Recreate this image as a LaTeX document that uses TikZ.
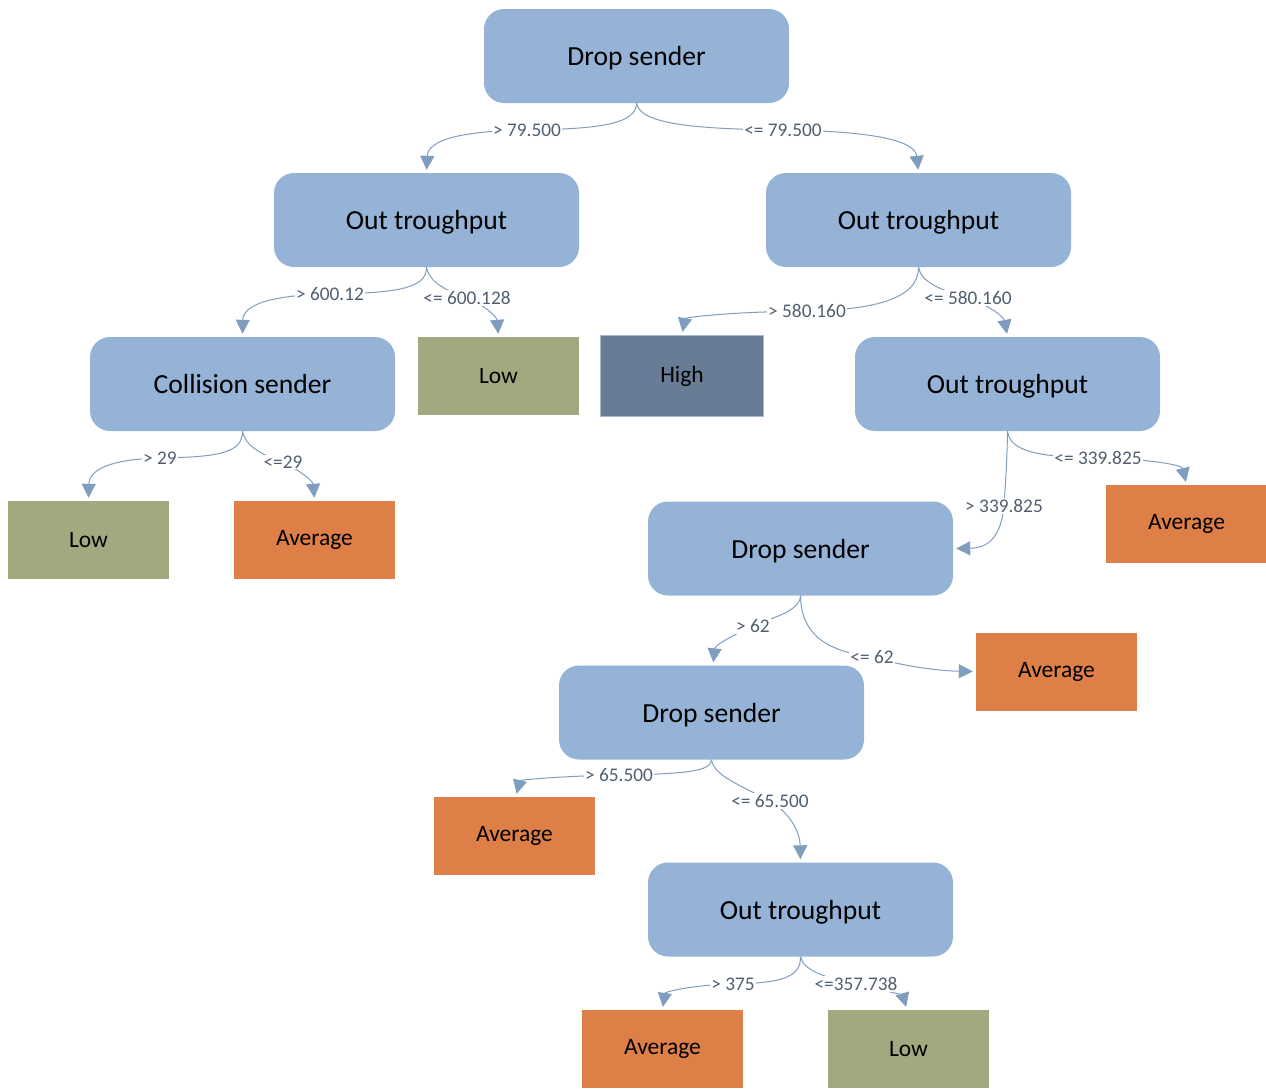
\documentclass[tikz,border=0pt]{standalone}
\usepackage{fontspec}
\setmainfont{Carlito}
\usetikzlibrary{arrows.meta}
\definecolor{nodeblue}{HTML}{95B3D7}
\definecolor{leafgreen}{HTML}{A3A97E}
\definecolor{leaforange}{HTML}{DE7F48}
\definecolor{leafhigh}{HTML}{687C95}
\definecolor{highborder}{HTML}{A5B8D0}
\definecolor{edgecol}{HTML}{7F9EBF}
\definecolor{labcol}{HTML}{505F6F}
\tikzset{
  decision/.style={rectangle, rounded corners=20pt, fill=nodeblue, minimum width=305pt, minimum height=94pt, inner sep=0pt, font=\fontsize{27.6}{32}\selectfont, text=black, text depth=0pt},
  leafbox/.style={rectangle, minimum width=161pt, minimum height=78pt, inner sep=0pt, font=\fontsize{23.5}{28}\selectfont, text=black},
  lowleaf/.style={leafbox, fill=leafgreen},
  avgleaf/.style={leafbox, fill=leaforange},
  highleaf/.style={leafbox, fill=leafhigh, draw=highborder, line width=1.2pt, minimum width=163pt, minimum height=81pt},
  edge/.style={draw=edgecol, line width=1pt, -{Triangle[length=14pt,width=14pt]}, shorten >=3pt},
  lbl/.style={fill=white, inner sep=1pt, text=labcol, font=\fontsize{19.3}{23}\selectfont}
}
\begin{document}
\begin{tikzpicture}[x=1pt,y=-1pt]
\useasboundingbox (0,0) rectangle (1266,1088);
% nodes
\node[decision] (root) at (636.5,56) {Drop sender};
\node[decision] (outL) at (426.5,220) {Out troughput};
\node[decision] (outR) at (918.5,220) {Out troughput};
\node[decision] (coll) at (242.5,384) {Collision sender};
\node[lowleaf] (low1) at (498.5,376) {Low};
\node[highleaf] (high) at (682,376) {High};
\node[decision] (out3) at (1007.5,384) {Out troughput};
\node[lowleaf] (low2) at (88.5,540) {Low};
\node[avgleaf] (avg1) at (314.5,540) {Average};
\node[decision] (drop2) at (800.5,548.5) {Drop sender};
\node[avgleaf] (avg2) at (1186.5,524) {Average};
\node[avgleaf] (avg3) at (1056.5,671.5) {Average};
\node[decision] (drop3) at (711.5,712.5) {Drop sender};
\node[avgleaf] (avg4) at (514.5,836) {Average};
\node[decision] (out4) at (800.5,909.5) {Out troughput};
\node[avgleaf] (avg5) at (662.5,1049) {Average};
\node[lowleaf] (low3) at (908.5,1049) {Low};
% edges
\draw[edge] (root.south) .. controls (636.5,125) and (595,129) .. (527,130) node[lbl]{> 79.500}
  .. controls (460,131) and (428,140) .. (outL.north);
\draw[edge] (root.south) .. controls (640,125) and (700,129) .. (783,130) node[lbl]{<= 79.500}
  .. controls (870,131) and (915,140) .. (outR.north);
\draw[edge] (outL.south) .. controls (427,289) and (395,293) .. (330,294) node[lbl]{> 600.12}
  .. controls (270,295) and (243,305) .. (coll.north);
\draw[edge] (outL.south) .. controls (429,282) and (445,290) .. (467,298) node[lbl]{<= 600.128}
  .. controls (488,307) and (497,318) .. (low1.north);
\draw[edge] (outR.south) .. controls (919,300) and (870,310) .. (807,311) node[lbl]{> 580.160}
  .. controls (720,312) and (685,318) .. (high.north);
\draw[edge] (outR.south) .. controls (921,282) and (940,290) .. (968,298) node[lbl]{<= 580.160}
  .. controls (993,307) and (1004,318) .. (out3.north);
\draw[edge] (coll.south) .. controls (243,454) and (215,457) .. (160,458) node[lbl]{> 29}
  .. controls (110,459) and (89,470) .. (low2.north);
\draw[edge] (coll.south) .. controls (245,446) and (262,455) .. (283,462) node[lbl]{<=29}
  .. controls (303,472) and (313,482) .. (avg1.north);
\draw[edge] (out3.south) .. controls (1007,465) and (1005,490) .. (1004,506) node[lbl]{> 339.825}
  .. controls (1001,535) and (990,548) .. (drop2.east);
\draw[edge] (out3.south) .. controls (1010,452) and (1040,457) .. (1098,458) node[lbl]{<= 339.825}
  .. controls (1150,459) and (1182,465) .. (avg2.north);
\draw[edge] (drop2.south) .. controls (800,612) and (770,618) .. (753,626) node[lbl]{> 62}
  .. controls (735,634) and (715,645) .. ([xshift=1.5pt]drop3.north);
\draw[edge] (drop2.south) .. controls (801,640) and (835,652) .. (872,657) node[lbl]{<= 62}
  .. controls (910,668) and (945,671) .. (avg3.west);
\draw[edge] (drop3.south) .. controls (712,772) and (680,774) .. (619,775) node[lbl]{> 65.500}
  .. controls (560,776) and (520,780) .. ([xshift=1.5pt]avg4.north);
\draw[edge] (drop3.south) .. controls (714,776) and (740,785) .. (770,801) node[lbl]{<= 65.500}
  .. controls (793,815) and (800,835) .. (out4.north);
\draw[edge] (out4.south) .. controls (801,978) and (780,983) .. (733,984) node[lbl]{> 375}
  .. controls (690,985) and (665,992) .. (avg5.north);
\draw[edge] (out4.south) .. controls (803,970) and (825,978) .. (856,984) node[lbl]{<=357.738}
  .. controls (885,990) and (903,996) .. ([xshift=-1.5pt]low3.north);
\end{tikzpicture}
\end{document}
